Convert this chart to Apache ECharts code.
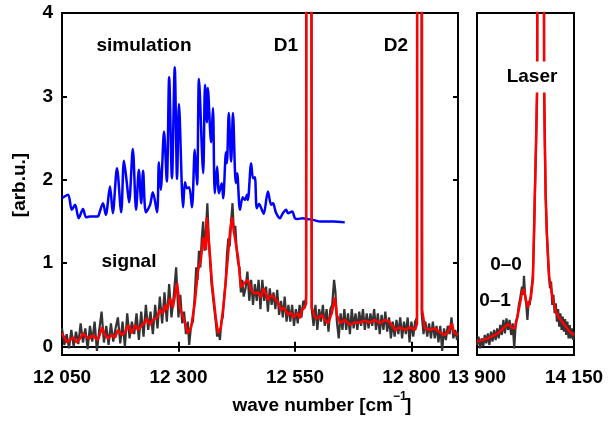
<!DOCTYPE html>
<html><head><meta charset="utf-8">
<script src="https://cdn.jsdelivr.net/npm/echarts@6/dist/echarts.min.js"></script>
<style>html,body{margin:0;padding:0;background:#fff}#c{width:610px;height:422px}</style>
</head><body><div id="c"></div>
<script>
// ---- data ----
const leftTicks = [12050, 12300, 12550, 12800];
const rightTicks = [13900, 14150];
const yTicks = [0, 1, 2, 3, 4];

const simulation = [[12050,1.78],[12063,1.82],[12071,1.64],[12078,1.70],[12086,1.54],[12095,1.65],[12102,1.55],[12110,1.56],[12127,1.56],[12129,1.58],[12138,1.72],[12144,1.58],[12153,1.92],[12159,1.60],[12168,2.14],[12177,1.61],[12183,2.23],[12189,1.97],[12194,1.73],[12202,2.37],[12209,1.64],[12215,2.12],[12220,1.72],[12224,2.11],[12230,1.61],[12239,1.70],[12245,1.85],[12254,1.61],[12258,2.21],[12262,1.88],[12269,2.58],[12275,1.98],[12280,3.23],[12286,2.02],[12292,3.35],[12297,2.01],[12301,2.91],[12310,1.67],[12314,1.97],[12318,1.90],[12323,1.91],[12329,1.67],[12335,2.36],[12340,1.94],[12344,3.21],[12353,2.08],[12357,3.14],[12361,2.69],[12363,3.10],[12370,2.45],[12374,2.86],[12378,1.84],[12383,2.16],[12387,1.84],[12393,1.96],[12396,1.78],[12402,2.33],[12404,2.20],[12408,2.80],[12413,2.22],[12417,2.80],[12423,1.96],[12426,2.08],[12432,1.64],[12438,1.79],[12443,1.76],[12447,1.82],[12449,1.76],[12456,2.20],[12460,2.02],[12464,2.03],[12468,1.66],[12473,1.71],[12479,1.64],[12483,1.59],[12492,1.86],[12499,1.70],[12503,1.72],[12509,1.61],[12518,1.54],[12524,1.60],[12531,1.64],[12535,1.60],[12544,1.62],[12550,1.54],[12556,1.53],[12567,1.54],[12576,1.53],[12589,1.52],[12604,1.50],[12632,1.50],[12657,1.49]];

const signalRawLeft = [[12050,0.22],[12055,0.02],[12060,0.15],[12065,-0.02],[12070,0.2],[12075,0.0],[12080,0.18],[12085,0.03],[12090,0.28],[12095,0.05],[12100,0.22],[12105,-0.03],[12110,0.25],[12115,0.06],[12120,0.3],[12125,-0.05],[12130,0.2],[12135,0.42],[12140,0.05],[12145,0.25],[12150,0.02],[12155,0.28],[12160,0.06],[12165,0.22],[12170,0.35],[12175,0.04],[12180,0.3],[12185,0.0],[12190,0.4],[12195,0.1],[12200,0.3],[12205,0.15],[12210,0.4],[12215,0.08],[12220,0.42],[12225,0.12],[12230,0.5],[12235,0.2],[12240,0.42],[12245,0.15],[12250,0.5],[12255,0.22],[12260,0.6],[12265,0.28],[12270,0.65],[12275,0.3],[12280,0.75],[12285,0.35],[12290,0.62],[12295,0.95],[12300,0.35],[12304,0.62],[12308,0.28],[12312,0.42],[12316,0.15],[12320,0.3],[12323,0.02],[12327,0.25],[12331,0.3],[12335,0.62],[12338,0.95],[12341,0.8],[12344,1.15],[12347,0.95],[12350,1.3],[12353,1.5],[12356,1.15],[12359,1.4],[12362,1.72],[12365,1.3],[12368,1.0],[12371,0.75],[12374,0.6],[12377,0.45],[12380,0.3],[12383,0.12],[12386,0.2],[12389,0.08],[12392,0.3],[12395,0.35],[12398,0.6],[12401,0.75],[12404,1.1],[12407,1.3],[12410,1.2],[12413,1.5],[12416,1.72],[12419,1.35],[12422,1.45],[12425,1.15],[12428,1.0],[12431,0.95],[12434,0.65],[12437,0.8],[12440,0.6],[12444,0.7],[12448,0.9],[12452,0.55],[12456,0.8],[12460,0.5],[12464,0.75],[12468,0.55],[12472,0.8],[12476,0.45],[12480,0.8],[12484,0.55],[12488,0.72],[12492,0.42],[12496,0.7],[12500,0.5],[12504,0.65],[12508,0.45],[12512,0.68],[12516,0.38],[12520,0.55],[12524,0.35],[12528,0.6],[12532,0.3],[12536,0.5],[12540,0.3],[12544,0.5],[12548,0.25],[12552,0.45],[12556,0.28],[12560,0.5],[12564,0.35],[12568,0.55],[12572,0.5],[12574,0.6],[12577,30],[12582,30],[12586,0.45],[12590,0.25],[12594,0.5],[12598,0.2],[12602,0.45],[12606,0.3],[12610,0.5],[12614,0.25],[12618,0.45],[12622,0.18],[12626,0.45],[12630,0.5],[12634,0.8],[12637,0.65],[12640,0.3],[12644,0.1],[12648,0.4],[12652,0.2],[12656,0.45],[12660,0.2],[12664,0.4],[12668,0.15],[12672,0.45],[12676,0.22],[12680,0.4],[12684,0.2],[12688,0.42],[12692,0.25],[12696,0.45],[12700,0.2],[12704,0.4],[12708,0.22],[12712,0.4],[12716,0.25],[12720,0.45],[12724,0.2],[12728,0.4],[12732,0.15],[12736,0.38],[12740,0.2],[12744,0.42],[12748,0.18],[12752,0.35],[12756,0.1],[12760,0.3],[12764,0.12],[12768,0.32],[12772,0.15],[12776,0.35],[12780,0.1],[12784,0.3],[12788,0.15],[12792,0.35],[12796,0.05],[12800,0.3],[12804,0.12],[12808,0.3],[12812,0.35],[12814,30],[12820,30],[12822,0.4],[12826,0.15],[12830,0.3],[12834,0.12],[12838,0.28],[12842,0.1],[12846,0.3],[12850,0.1],[12854,0.25],[12858,0.05],[12862,0.25],[12866,-0.05],[12870,0.22],[12874,0.08],[12878,0.25],[12882,0.15],[12886,0.35],[12890,0.1],[12894,0.2],[12898,0.08],[12900,0.18]];

const signalSmoothLeft = [[12050,0.16],[12052,0.14],[12061,0.05],[12067,0.08],[12074,0.11],[12082,0.05],[12089,0.10],[12095,0.16],[12104,0.11],[12110,0.10],[12117,0.14],[12125,0.08],[12129,0.11],[12136,0.23],[12142,0.14],[12149,0.10],[12157,0.14],[12164,0.11],[12170,0.20],[12179,0.14],[12185,0.17],[12192,0.26],[12200,0.16],[12207,0.26],[12213,0.20],[12222,0.26],[12228,0.29],[12232,0.34],[12239,0.26],[12245,0.32],[12254,0.35],[12260,0.44],[12267,0.40],[12271,0.50],[12275,0.44],[12282,0.58],[12288,0.47],[12297,0.76],[12303,0.47],[12312,0.32],[12320,0.16],[12327,0.23],[12335,0.52],[12342,0.92],[12348,1.04],[12353,1.31],[12359,1.16],[12361,1.55],[12368,1.07],[12372,0.76],[12380,0.35],[12385,0.16],[12391,0.23],[12398,0.56],[12406,1.07],[12411,1.40],[12415,1.55],[12421,1.31],[12428,1.07],[12434,0.71],[12441,0.76],[12449,0.80],[12456,0.68],[12462,0.64],[12471,0.65],[12477,0.59],[12483,0.70],[12492,0.56],[12499,0.62],[12505,0.59],[12514,0.52],[12520,0.44],[12526,0.47],[12535,0.38],[12541,0.41],[12548,0.35],[12556,0.40],[12561,0.34],[12565,0.44],[12571,0.47],[12574,0.52],[12577,30],[12582,30],[12586,0.47],[12593,0.35],[12599,0.34],[12608,0.38],[12614,0.32],[12621,0.28],[12629,0.40],[12636,0.59],[12640,0.38],[12647,0.28],[12657,0.32],[12668,0.26],[12679,0.29],[12690,0.29],[12700,0.31],[12711,0.29],[12722,0.32],[12732,0.28],[12743,0.32],[12754,0.29],[12765,0.20],[12775,0.23],[12786,0.20],[12797,0.23],[12808,0.20],[12812,0.28],[12814,30],[12820,30],[12823,0.44],[12829,0.22],[12840,0.20],[12850,0.22],[12861,0.17],[12872,0.14],[12878,0.17],[12887,0.28],[12891,0.17],[12900,0.14]];

const signalRawRight = [[13900,0.02],[13904,0.12],[13908,-0.02],[13912,0.1],[13916,0.0],[13920,0.14],[13924,0.04],[13928,0.16],[13932,0.02],[13936,0.18],[13940,0.06],[13944,0.2],[13948,0.08],[13952,0.22],[13956,0.1],[13960,0.26],[13964,0.14],[13968,0.32],[13972,0.16],[13976,0.34],[13980,0.2],[13984,0.32],[13988,0.14],[13992,0.28],[13996,-0.02],[14000,0.3],[14004,0.35],[14008,0.5],[14012,0.6],[14016,0.72],[14019,0.62],[14021,0.85],[14024,0.62],[14027,0.5],[14030,0.32],[14033,0.55],[14036,0.5],[14040,0.68],[14044,0.85],[14047,1.36],[14049,1.8],[14052,2.4],[14055,3.1],[14056,6],[14072,6],[14073,3.1],[14075,2.4],[14077,1.8],[14080,1.36],[14084,0.95],[14088,0.7],[14091,0.78],[14094,0.5],[14097,0.62],[14100,0.4],[14103,0.52],[14106,0.3],[14109,0.45],[14112,0.24],[14115,0.4],[14118,0.2],[14121,0.36],[14124,0.18],[14127,0.33],[14130,0.14],[14133,0.3],[14136,0.1],[14139,0.26],[14142,0.1],[14145,0.22],[14148,0.08],[14150,0.18]];

const signalSmoothRight = [[13900,0.06],[13903,0.05],[13915,0.08],[13928,0.10],[13941,0.13],[13954,0.16],[13967,0.22],[13980,0.27],[13990,0.23],[13998,0.22],[14006,0.40],[14016,0.65],[14021,0.69],[14026,0.56],[14031,0.47],[14039,0.59],[14044,0.80],[14047,1.36],[14049,1.80],[14052,2.40],[14055,3.10],[14056,6],[14072,6],[14073,3.10],[14075,2.40],[14077,1.80],[14080,1.36],[14086,0.83],[14096,0.56],[14104,0.41],[14111,0.35],[14122,0.28],[14132,0.22],[14141,0.17],[14150,0.14]];

const annotationTexts = ['simulation', 'D1', 'D2', 'signal', 'Laser', '0\u20130', '0\u20131'];
const yAxisTitle = '[arb.u.]';
const xAxisTitle = ['wave number [cm', '\u22121', ']'];

// ---- chart ----
const FONT = "'Liberation Sans', Arial, Helvetica, sans-serif";
const fmt = v => { const s = String(Math.round(v)); return s.slice(0, s.length - 3) + ' ' + s.slice(-3); };
const chart = echarts.init(document.getElementById('c'), null, {renderer: 'canvas'});

const lblStyle = {color: '#000', fontFamily: FONT, fontWeight: 'bold', fontSize: 19};
const line2 = {show: true, lineStyle: {color: '#000', width: 2}};

function txt(text, x, y, extra) {
  return {
    type: 'text', z: 100, x: x, y: y,
    style: Object.assign({text: text, fill: '#000', font: 'bold 19px ' + FONT, textAlign: 'center', textVerticalAlign: 'middle'}, extra || {})
  };
}

chart.setOption({
  animation: false,
  backgroundColor: '#fff',
  grid: [
    {left: 62, top: 13, width: 396, height: 342, show: true, borderColor: '#000', borderWidth: 2, backgroundColor: 'transparent'},
    {left: 477, top: 13, width: 97, height: 342, show: true, borderColor: '#000', borderWidth: 2, backgroundColor: 'transparent'}
  ],
  xAxis: [
    {type: 'value', gridIndex: 0, position: 'bottom', min: 12050, max: 12900,
     axisLine: line2, splitLine: {show: false},
     axisTick: {show: true, inside: true, length: 5, customValues: leftTicks, lineStyle: {color: '#000', width: 2}},
     axisLabel: Object.assign({customValues: leftTicks, formatter: fmt, margin: 13, showMinLabel: true, showMaxLabel: true}, lblStyle)},
    {type: 'value', gridIndex: 0, position: 'top', min: 12050, max: 12900,
     axisLine: line2, splitLine: {show: false},
     axisTick: {show: true, inside: true, length: 5, customValues: leftTicks, lineStyle: {color: '#000', width: 2}},
     axisLabel: {show: false}},
    {type: 'value', gridIndex: 1, position: 'bottom', min: 13900, max: 14150,
     axisLine: line2, splitLine: {show: false},
     axisTick: {show: false},
     axisLabel: Object.assign({customValues: rightTicks, formatter: fmt, margin: 13, showMinLabel: true, showMaxLabel: true}, lblStyle)}
  ],
  yAxis: [
    {type: 'value', gridIndex: 0, position: 'left', min: -0.1, max: 4,
     axisLine: line2, splitLine: {show: false},
     axisTick: {show: true, inside: true, length: 5, customValues: yTicks, lineStyle: {color: '#000', width: 2}},
     axisLabel: Object.assign({customValues: yTicks, margin: 9, formatter: v => String(Math.round(v))}, lblStyle)},
    {type: 'value', gridIndex: 0, position: 'right', min: -0.1, max: 4,
     axisLine: line2, splitLine: {show: false},
     axisTick: {show: true, inside: true, length: 5, customValues: yTicks, lineStyle: {color: '#000', width: 2}},
     axisLabel: {show: false}},
    {type: 'value', gridIndex: 1, position: 'left', min: -0.1, max: 4,
     axisLine: line2, splitLine: {show: false}, axisTick: {show: false}, axisLabel: {show: false}}
  ],
  series: [
    {type: 'line', xAxisIndex: 0, yAxisIndex: 0, data: simulation, showSymbol: false, clip: true, smooth: 0.3,
     lineStyle: {color: '#0000ff', width: 2.5}, itemStyle: {color: '#0000ff'}, z: 2},
    {type: 'line', xAxisIndex: 0, yAxisIndex: 0, data: signalRawLeft, showSymbol: false, clip: true,
     lineStyle: {color: '#333333', width: 2.2}, itemStyle: {color: '#333333'}, z: 3},
    {type: 'line', xAxisIndex: 0, yAxisIndex: 0, data: signalSmoothLeft, showSymbol: false, clip: true,
     lineStyle: {color: '#ff0000', width: 2.5}, itemStyle: {color: '#ff0000'}, z: 4},
    {type: 'line', xAxisIndex: 2, yAxisIndex: 2, data: signalRawRight, showSymbol: false, clip: true,
     lineStyle: {color: '#333333', width: 2.2}, itemStyle: {color: '#333333'}, z: 3},
    {type: 'line', xAxisIndex: 2, yAxisIndex: 2, data: signalSmoothRight, showSymbol: false, clip: true,
     lineStyle: {color: '#ff0000', width: 2.5}, itemStyle: {color: '#ff0000'}, z: 4}
  ],
  graphic: [
    txt(annotationTexts[0], 144, 46),
    txt(annotationTexts[1], 286, 46),
    txt(annotationTexts[2], 396, 46),
    txt(annotationTexts[3], 129, 262),
    txt(annotationTexts[4], 532, 77, {backgroundColor: '#fff', padding: [6, 1, 6, 1]}),
    txt(annotationTexts[5], 506, 265),
    txt(annotationTexts[6], 495, 301),
    {type: 'text', z: 100, x: 20, y: 185, rotation: Math.PI / 2,
     style: {text: yAxisTitle, fill: '#000', font: 'bold 19px ' + FONT, textAlign: 'center', textVerticalAlign: 'middle'}},
    {type: 'text', z: 100, x: 393, y: 406,
     style: {text: xAxisTitle[0], fill: '#000', font: 'bold 19px ' + FONT, textAlign: 'right', textVerticalAlign: 'middle'}},
    {type: 'text', z: 100, x: 393, y: 397,
     style: {text: xAxisTitle[1], fill: '#000', font: 'bold 12px ' + FONT, textAlign: 'left', textVerticalAlign: 'middle'}},
    {type: 'text', z: 100, x: 405, y: 406,
     style: {text: xAxisTitle[2], fill: '#000', font: 'bold 19px ' + FONT, textAlign: 'left', textVerticalAlign: 'middle'}}
  ]
});
</script></body></html>
